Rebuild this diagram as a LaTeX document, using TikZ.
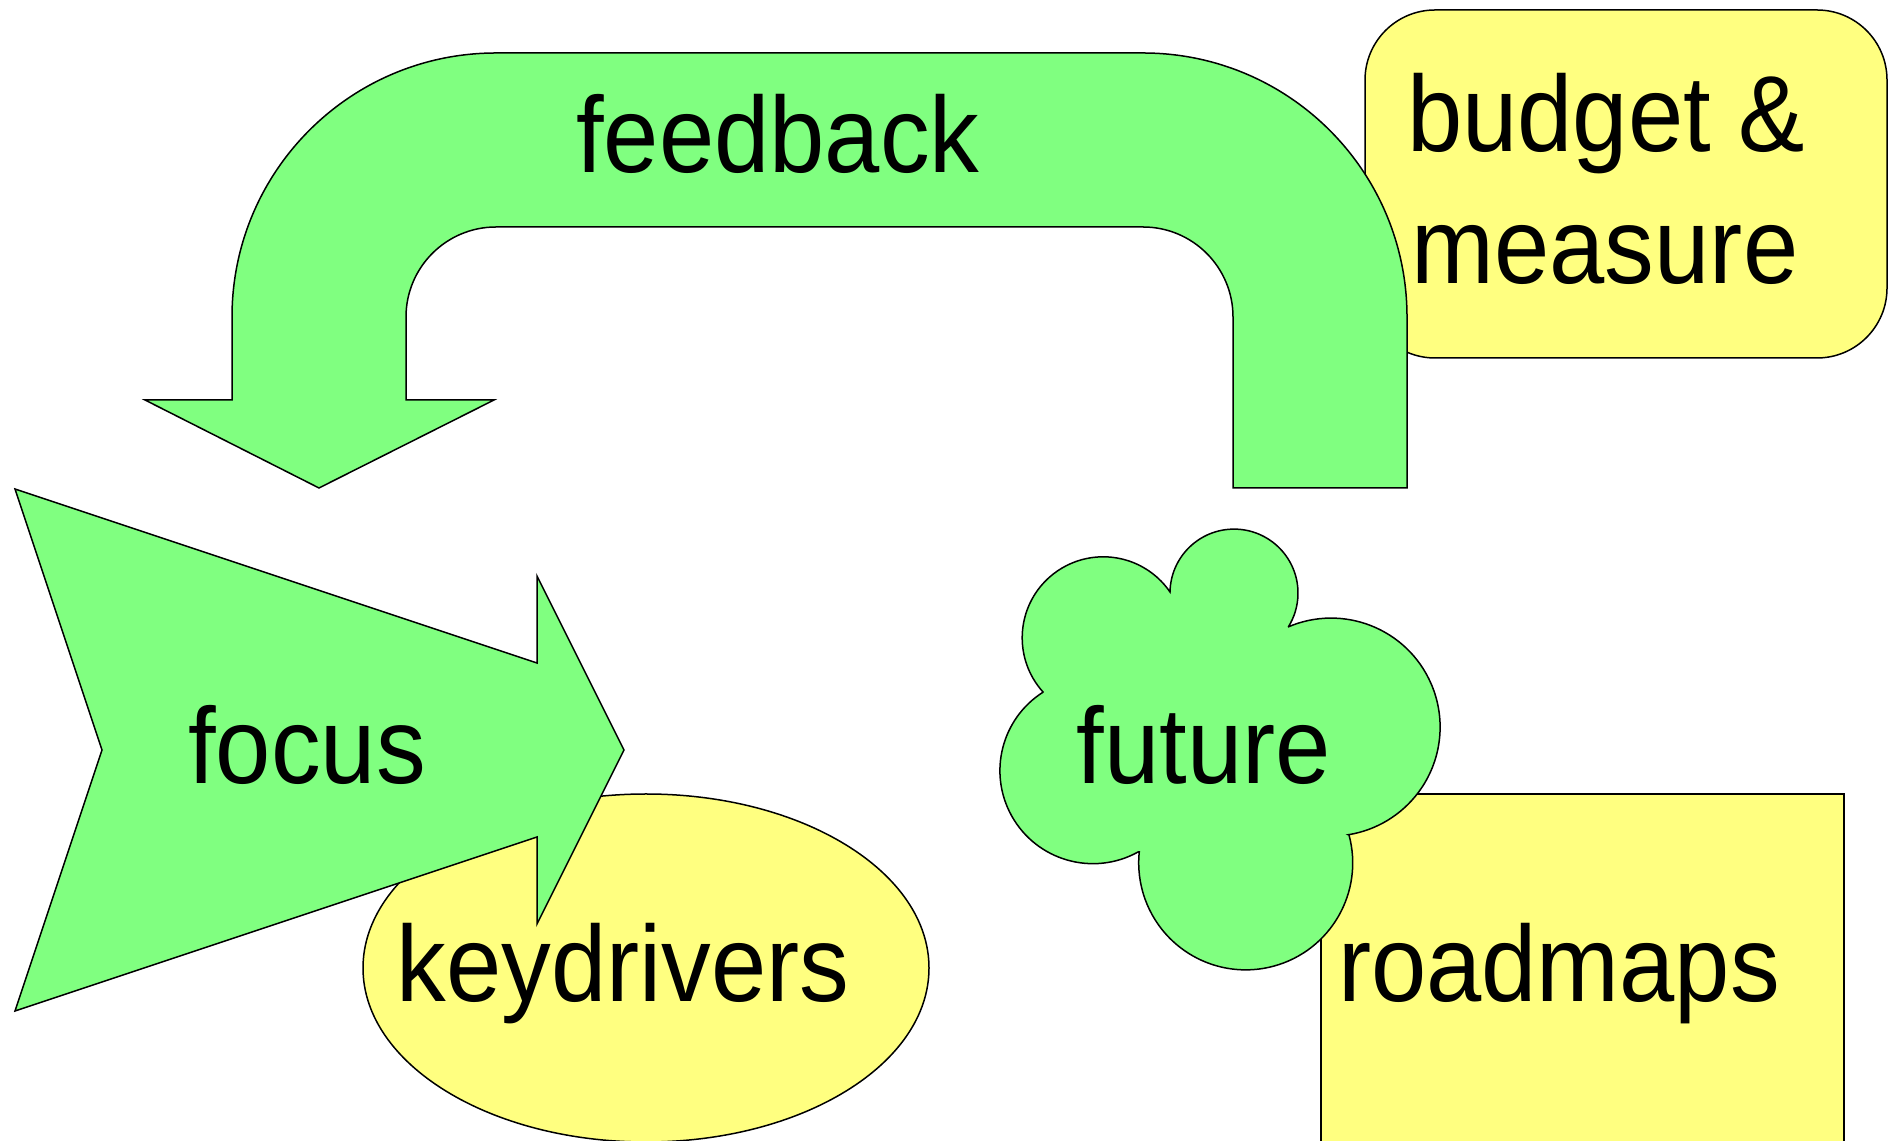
\documentclass[tikz,border=0pt]{standalone}
\usepackage{fontspec}
\setmainfont[FakeStretch=0.92]{Liberation Sans}
\definecolor{lgreen}{RGB}{128,255,128}
\definecolor{lyellow}{RGB}{255,255,128}
\tikzset{
  greenshape/.style={fill=lgreen, draw=black, line width=1.5pt, line join=miter},
  yellowshape/.style={fill=lyellow, draw=black, line width=1.5pt},
  label/.style={inner sep=0pt, font=\fontsize{108}{132}\selectfont, text=black}
}
\begin{document}
\begin{tikzpicture}[x=1pt, y=1pt]
\useasboundingbox (0,0) rectangle (1897,1140);
\clip (0,0) rectangle (1897,1140);
% budget box (behind feedback arrow)
\draw[yellowshape, rounded corners=70pt] (1365,782) rectangle (1887,1130);
% feedback U-turn arrow
\draw[greenshape] (1407,652) -- (1407,823)
  arc[start angle=0, end angle=90, radius=264pt] -- (496,1087)
  arc[start angle=90, end angle=180, radius=264pt] -- (232,740)
  -- (145,740) -- (319,652) -- (494,740) -- (406,740) -- (406,823)
  arc[start angle=180, end angle=90, radius=90pt] -- (1143,913)
  arc[start angle=90, end angle=0, radius=90pt] -- (1233,652) -- cycle;
% keydrivers ellipse (behind focus arrow)
\draw[yellowshape] (646,172) ellipse[x radius=283pt, y radius=174pt];
% focus arrow
\draw[greenshape] (15,651) -- (537,477) -- (537,564) -- (624,390)
  -- (537,216) -- (537,303) -- (15,129) -- (102,390) -- cycle;
% roadmaps rectangle (behind cloud)
\draw[yellowshape] (1321,-20) rectangle (1844,346);
% future cloud
\draw[greenshape] (1043,448)
  arc[start angle=222, end angle=34.5, radius=81pt] -- (1170,548)
  arc[start angle=179, end angle=-31.7, radius=64pt] -- (1288,513)
  arc[start angle=113.3, end angle=-80.9, radius=109pt] -- (1349,305)
  arc[start angle=15.1, end angle=-185.9, radius=107pt] -- (1138,288)
  arc[start angle=-61, end angle=-237.5, radius=93pt] -- cycle;
% texts
\node[label, anchor=base] (feedback) at (778,967) {feedback};
\node[label, anchor=base] (focus) at (307,356) {focus};
\node[label, anchor=base] (keydrivers) at (623,138) {keydrivers};
\node[label, anchor=base] (future) at (1204,356) {future};
\node[label, anchor=base] (roadmaps) at (1559,138) {roadmaps};
\node[label, anchor=base] (budget) at (1606,988) {budget \&};
\node[label, anchor=base] (measure) at (1605,856) {measure};
\end{tikzpicture}
\end{document}
